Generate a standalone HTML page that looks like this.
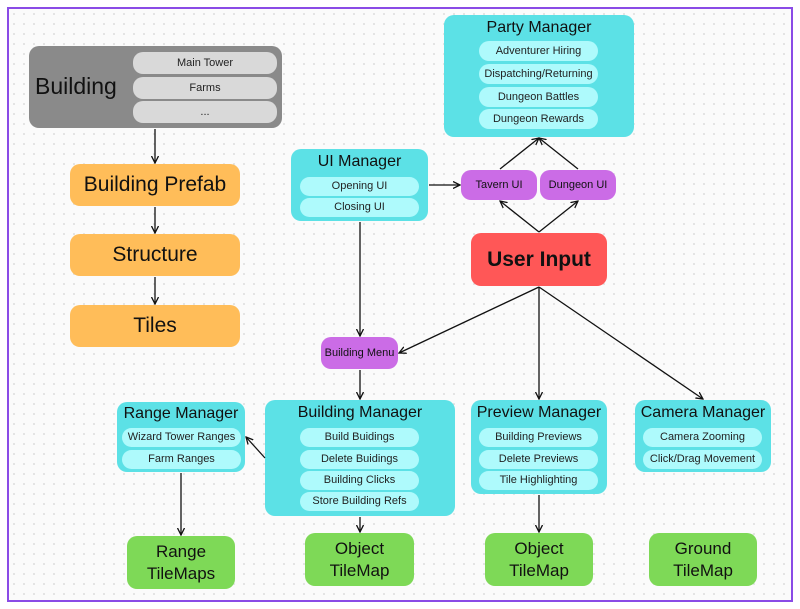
<!DOCTYPE html>
<html><head><style>
body{margin:0;width:800px;height:609px;background:#fff;font-family:"Liberation Sans",sans-serif;position:relative;overflow:hidden}
.frame{position:absolute;left:7px;top:7px;width:782px;height:591px;border:2px solid #8a4be6;background-color:#fbfbfb;background-image:radial-gradient(#dcdcdc 1px,transparent 1px);background-size:10px 10px}
.b{position:absolute;border-radius:10px;box-sizing:border-box;text-align:center;color:#111}
.p{position:absolute;border-radius:10px;background:#aefafc;font-size:11px;text-align:center;color:#222}
.g{background:#d9d9d9}
.c{background:#5ce1e6}
.o{background:#ffbd59;font-size:21px;display:flex;align-items:center;justify-content:center}
.gr{background:#7ed957;font-size:17px;display:flex;align-items:center;justify-content:center;line-height:22px}
.pu{background:#cb6ce6;font-size:11px;display:flex;align-items:center;justify-content:center}
.t{position:absolute;left:0;right:0;font-size:16px}
svg{position:absolute;left:0;top:0}
</style></head><body>
<div class="frame"></div>

<div class="b" style="left:29px;top:46px;width:253px;height:82px;background:#8a8a8a"><div style="position:absolute;left:6px;top:27px;font-size:23px">Building</div></div>
<div class="p g" style="left:133px;top:52px;width:144px;height:22px;line-height:22px">Main Tower</div>
<div class="p g" style="left:133px;top:77px;width:144px;height:22px;line-height:22px">Farms</div>
<div class="p g" style="left:133px;top:101px;width:144px;height:22px;line-height:22px">...</div>

<div class="b o" style="left:70px;top:164px;width:170px;height:42px">Building Prefab</div>
<div class="b o" style="left:70px;top:234px;width:170px;height:42px">Structure</div>
<div class="b o" style="left:70px;top:305px;width:170px;height:42px">Tiles</div>

<div class="b c" style="left:291px;top:149px;width:137px;height:72px"><div class="t" style="top:4px">UI Manager</div></div>
<div class="p" style="left:300px;top:177px;width:119px;height:19px;line-height:19px">Opening UI</div>
<div class="p" style="left:300px;top:198px;width:119px;height:19px;line-height:19px">Closing UI</div>

<div class="b c" style="left:444px;top:15px;width:190px;height:122px"><div class="t" style="top:4px">Party Manager</div></div>
<div class="p" style="left:479px;top:41px;width:119px;height:20px;line-height:20px">Adventurer Hiring</div>
<div class="p" style="left:479px;top:64px;width:119px;height:20px;line-height:20px">Dispatching/Returning</div>
<div class="p" style="left:479px;top:87px;width:119px;height:20px;line-height:20px">Dungeon Battles</div>
<div class="p" style="left:479px;top:109px;width:119px;height:20px;line-height:20px">Dungeon Rewards</div>

<div class="b pu" style="left:461px;top:170px;width:76px;height:30px">Tavern UI</div>
<div class="b pu" style="left:540px;top:170px;width:76px;height:30px">Dungeon UI</div>
<div class="b" style="left:471px;top:233px;width:136px;height:53px;background:#ff5757;font-size:21px;font-weight:bold;line-height:53px">User Input</div>
<div class="b pu" style="left:321px;top:337px;width:77px;height:32px">Building Menu</div>

<div class="b c" style="left:117px;top:402px;width:128px;height:70px"><div class="t" style="top:3px">Range Manager</div></div>
<div class="p" style="left:122px;top:428px;width:119px;height:19px;line-height:19px">Wizard Tower Ranges</div>
<div class="p" style="left:122px;top:450px;width:119px;height:19px;line-height:19px">Farm Ranges</div>

<div class="b c" style="left:265px;top:400px;width:190px;height:116px"><div class="t" style="top:4px">Building Manager</div></div>
<div class="p" style="left:300px;top:428px;width:119px;height:19px;line-height:19px">Build Buidings</div>
<div class="p" style="left:300px;top:450px;width:119px;height:19px;line-height:19px">Delete Buidings</div>
<div class="p" style="left:300px;top:471px;width:119px;height:19px;line-height:19px">Building Clicks</div>
<div class="p" style="left:300px;top:492px;width:119px;height:19px;line-height:19px">Store Building Refs</div>

<div class="b c" style="left:471px;top:400px;width:136px;height:94px"><div class="t" style="top:4px">Preview Manager</div></div>
<div class="p" style="left:479px;top:428px;width:119px;height:19px;line-height:19px">Building Previews</div>
<div class="p" style="left:479px;top:450px;width:119px;height:19px;line-height:19px">Delete Previews</div>
<div class="p" style="left:479px;top:471px;width:119px;height:19px;line-height:19px">Tile Highlighting</div>

<div class="b c" style="left:635px;top:400px;width:136px;height:72px"><div class="t" style="top:4px">Camera Manager</div></div>
<div class="p" style="left:643px;top:428px;width:119px;height:19px;line-height:19px">Camera Zooming</div>
<div class="p" style="left:643px;top:450px;width:119px;height:19px;line-height:19px">Click/Drag Movement</div>

<div class="b gr" style="left:127px;top:536px;width:108px;height:53px">Range<br>TileMaps</div>
<div class="b gr" style="left:305px;top:533px;width:109px;height:53px">Object<br>TileMap</div>
<div class="b gr" style="left:485px;top:533px;width:108px;height:53px">Object<br>TileMap</div>
<div class="b gr" style="left:649px;top:533px;width:108px;height:53px">Ground<br>TileMap</div>

<svg width="800" height="609">
<defs><marker id="a" markerWidth="8" markerHeight="8" refX="7" refY="4" orient="auto" markerUnits="userSpaceOnUse"><path d="M0,0.5 L7,4 L0,7.5" fill="none" stroke="#111" stroke-width="1.3"/></marker></defs>
<g stroke="#111" stroke-width="1.3" fill="none" marker-end="url(#a)">
<line x1="155" y1="129" x2="155" y2="163"/>
<line x1="155" y1="207" x2="155" y2="233"/>
<line x1="155" y1="277" x2="155" y2="304"/>
<line x1="429" y1="185" x2="460" y2="185"/>
<line x1="500" y1="169" x2="539" y2="138"/>
<line x1="578" y1="169" x2="539" y2="138"/>
<line x1="539" y1="232" x2="500" y2="201"/>
<line x1="539" y1="232" x2="578" y2="201"/>
<line x1="539" y1="287" x2="399" y2="353"/>
<line x1="539" y1="287" x2="539" y2="399"/>
<line x1="539" y1="287" x2="703" y2="399"/>
<line x1="360" y1="222" x2="360" y2="336"/>
<line x1="360" y1="370" x2="360" y2="399"/>
<line x1="265" y1="458" x2="246" y2="437"/>
<line x1="181" y1="473" x2="181" y2="535"/>
<line x1="360" y1="517" x2="360" y2="532"/>
<line x1="539" y1="495" x2="539" y2="532"/>
</g></svg>
</body></html>
